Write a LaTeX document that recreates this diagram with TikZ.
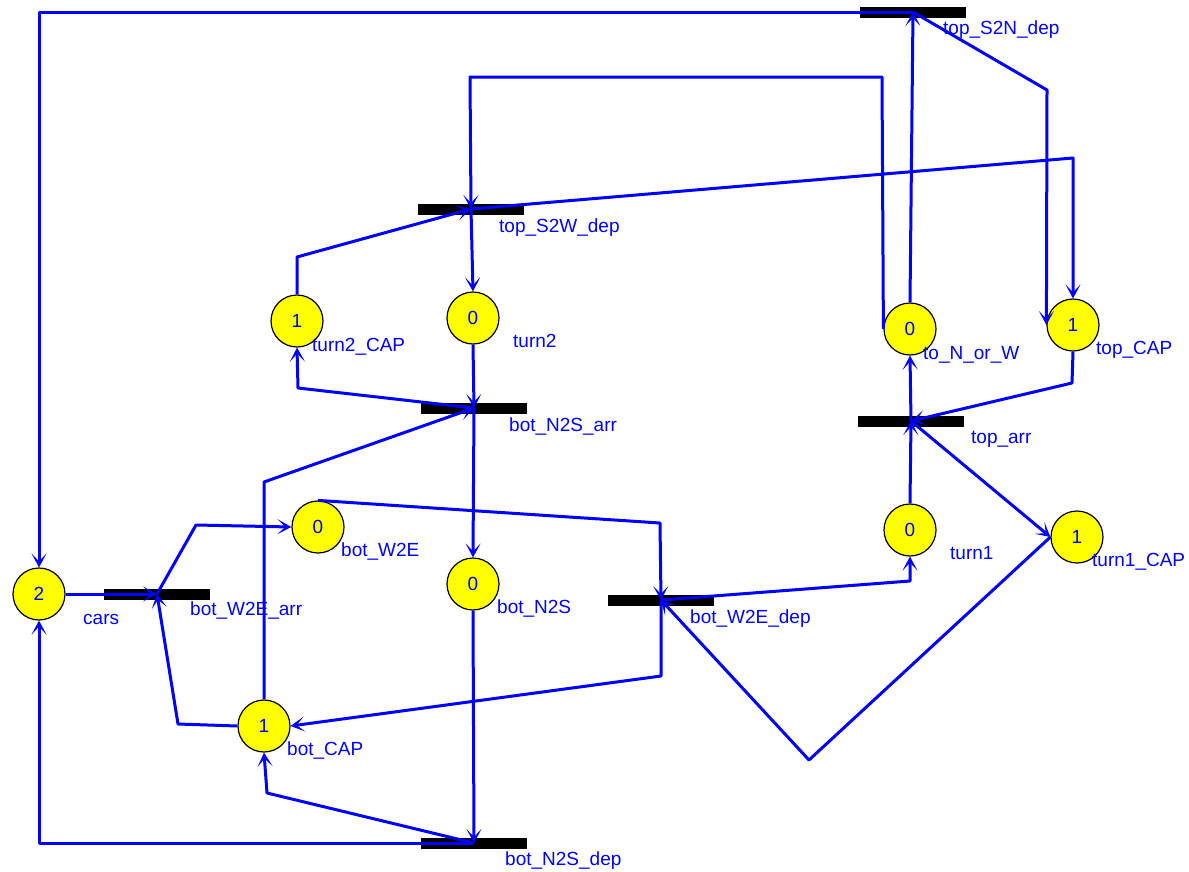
\documentclass[tikz,border=0pt]{standalone}
\usepackage{fontspec}
\setmainfont{Liberation Sans}
\usetikzlibrary{arrows.meta}
\definecolor{pblue}{RGB}{0,0,255}
\definecolor{pyellow}{RGB}{255,255,0}
\begin{document}
\begin{tikzpicture}[x=1pt,y=-1pt,
  place/.style={circle,draw=black,line width=1.2pt,fill=pyellow,minimum size=52pt,inner sep=0pt,text=pblue,font=\fontsize{19}{20}\selectfont},
  trans/.style={rectangle,fill=black,minimum width=106pt,minimum height=11pt,inner sep=0pt},
  lbl/.style={anchor=base west,inner sep=0pt,text=pblue,font=\fontsize{19}{20}\selectfont},
  arc/.style={draw=pblue,line width=3pt,line join=round,-{Stealth[length=14pt,width=15pt,inset=8pt]}}]
\useasboundingbox[fill=white] (0,0) rectangle (1189,871);
% places
\node[place] (cars) at (39,594) {2};
\node[place] (turn2CAP) at (297,321) {1};
\node[place] (turn2) at (473,318) {0};
\node[place] (botW2E) at (318,527) {0};
\node[place] (botN2S) at (473,584) {0};
\node[place] (botCAP) at (264,726) {1};
\node[place] (toNW) at (910,329) {0};
\node[place] (topCAP) at (1073,325) {1};
\node[place] (turn1) at (910,530) {0};
\node[place] (turn1CAP) at (1077,537) {1};
% transitions
\node[trans] (tS2N) at (913,12) {};
\node[trans] (tS2W) at (471,209) {};
\node[trans] (tN2Sarr) at (474,408) {};
\node[trans] (tarr) at (911,421) {};
\node[trans] (tW2Earr) at (157,594) {};
\node[trans] (tW2Edep) at (661,600) {};
\node[trans] (tN2Sdep) at (474,843) {};
% labels
\node[lbl] (l1) at (943,34.5) {top\_S2N\_dep};
\node[lbl] (l2) at (499,232) {top\_S2W\_dep};
\node[lbl] (l3) at (509,431) {bot\_N2S\_arr};
\node[lbl] (l4) at (971,443) {top\_arr};
\node[lbl] (l5) at (312,351) {turn2\_CAP};
\node[lbl] (l6) at (513,347) {turn2};
\node[lbl] (l7) at (341,556) {bot\_W2E};
\node[lbl] (l8) at (83,624) {cars};
\node[lbl] (l9) at (190,615) {bot\_W2E\_arr};
\node[lbl] (l10) at (497,613) {bot\_N2S};
\node[lbl] (l11) at (287,755) {bot\_CAP};
\node[lbl] (l12) at (505,865) {bot\_N2S\_dep};
\node[lbl] (l13) at (690,623) {bot\_W2E\_dep};
\node[lbl] (l14) at (923,359) {to\_N\_or\_W};
\node[lbl] (l15) at (1096,354) {top\_CAP};
\node[lbl] (l16) at (950,559) {turn1};
\node[lbl] (l17) at (1092,566) {turn1\_CAP};
% arcs
\draw[arc] (tS2N.center) -| (cars.north);
\draw[arc] (toNW.north) -- (tS2N.center);
\draw[arc] (tS2N.center) -- (1047,90) -- (topCAP.west);
\draw[arc] (tS2W.center) -- (1073,158) -- (topCAP.north);
\draw[arc] (toNW.west) -- (882,77) -- (470,77) -- (tS2W.center);
\draw[arc] (tS2W.center) -- (turn2.north);
\draw[arc] (turn2CAP.north) -- (297,257) -- (tS2W.center);
\draw[arc] (turn2.south) -- (tN2Sarr.center);
\draw[arc] (tN2Sarr.center) -- (298,388) -- (turn2CAP.south);
\draw[arc] (botCAP.north) -- (264,482) -- (tN2Sarr.center);
\draw[arc] (tN2Sarr.center) -- (botN2S.north);
\draw[arc] (botN2S.south) -- (tN2Sdep.center);
\draw[arc] (tN2Sdep.center) -- (267,793) -- (botCAP.south);
\draw[arc] (tN2Sdep.center) -| (cars.south);
\draw[arc] (cars.east) -- (tW2Earr.center);
\draw[arc] (tW2Earr.center) -- (196,525) -- (botW2E.west);
\draw[arc] (botCAP.west) -- (178,724) -- (tW2Earr.center);
\draw[arc] (botW2E.north) -- (660,523) -- (tW2Edep.center);
\draw[arc] (tW2Edep.center) -- (661,676) -- (botCAP.east);
\draw[arc] (tW2Edep.center) -- (910,581) -- (turn1.south);
\draw[arc] (turn1.north) -- (tarr.center);
\draw[arc] (tarr.center) -- (toNW.south);
\draw[arc] (topCAP.south) -- (1072,383) -- (tarr.center);
\draw[arc] (tarr.center) -- (turn1CAP.west);
\draw[arc] (turn1CAP.west) -- (809,760) -- (tW2Edep.center);
\end{tikzpicture}
\end{document}
